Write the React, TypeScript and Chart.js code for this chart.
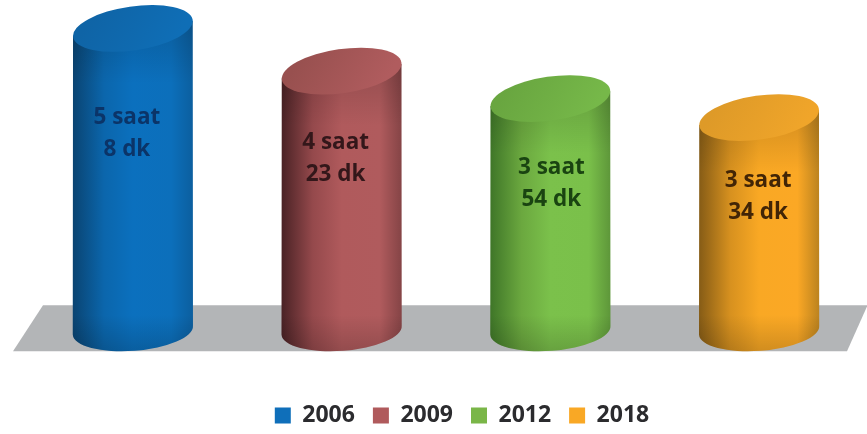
import React, { useEffect, useRef } from "react";
import { Chart, registerables } from "chart.js";

Chart.register(...registerables);

const years = ["2006", "2009", "2012", "2018"];
const minutes = [308, 263, 234, 214];
const labelLines = [
  ["5 saat", "8 dk"],
  ["4 saat", "23 dk"],
  ["3 saat", "54 dk"],
  ["3 saat", "34 dk"],
];
const legendColors = ["#0F6FBA", "#B05A5C", "#7AB648", "#F9A825"];
const bodyStops = [
  ["#0A4472", "#0B66AC", "#0B70BE", "#0C6FBB", "#0C5F9F"],
  ["#4A2225", "#95494C", "#B05A5C", "#B05B5D", "#854446"],
  ["#3F7628", "#6BA83F", "#7BC14B", "#7AC04A", "#5E973A"],
  ["#865C16", "#D7911F", "#F9A824", "#FBA825", "#BC831F"],
];
const capStops = [
  ["#0F64A6", "#0F6EB6"],
  ["#98504F", "#B05C5E"],
  ["#69A640", "#76B849"],
  ["#DE9A28", "#F0A52A"],
];
const textColors = ["#0B3468", "#33171A", "#1A4411", "#422506"];
const labelNudge = [
  [-6, 105.5],
  [-6, 87],
  [1, 85],
  [-1, 79.5],
];

const FONT = '"Open Sans", sans-serif';
const PLATFORM = "#B3B5B7";

const ellipseExtents = (a: number, b: number, r: number) => {
  const w = Math.sqrt(a * a * Math.cos(r) ** 2 + b * b * Math.sin(r) ** 2);
  const dy = ((a * a - b * b) * Math.sin(r) * Math.cos(r)) / w;
  return { w, dy };
};

const cylinderPlugin = {
  id: "cylinders",
  afterLayout(chart: any) {
    const lg = chart.legend;
    if (!lg) return;
    lg.left += 16;
    lg.right += 16;
    lg.top += 3;
    lg.bottom += 3;
  },
  beforeDatasetsDraw(chart: any) {
    const { ctx } = chart;
    const area = chart.chartArea;
    const y = chart.scales.y;
    const baseY = y.getPixelForValue(chart.data.datasets[0].base);
    ctx.save();
    ctx.fillStyle = PLATFORM;
    ctx.beginPath();
    ctx.moveTo(area.left + 14.5, baseY - 25);
    ctx.lineTo(area.right + 4, baseY - 25);
    ctx.lineTo(area.right - 16.5, baseY + 21);
    ctx.lineTo(area.left - 15.5, baseY + 21);
    ctx.closePath();
    ctx.fill();

    chart.getDatasetMeta(0).data.forEach((bar: any, i: number) => {
      const half = bar.width / 2;
      const cx = bar.x;
      const topR = (-8.2 * Math.PI) / 180;
      const botR = (-4.3 * Math.PI) / 180;
      const topA = half * 1.008, topB = 22;
      const botA = half * 1.006, botB = 20.6;
      const t = ellipseExtents(topA, topB, topR);
      const b = ellipseExtents(botA, botB, botR);

      const bodyPath = () => {
        ctx.beginPath();
        ctx.moveTo(cx - t.w, bar.y - t.dy);
        ctx.lineTo(cx - b.w, bar.base - b.dy);
        ctx.ellipse(cx, bar.base, botA, botB, botR, Math.PI, 0, true);
        ctx.lineTo(cx + t.w, bar.y + t.dy);
        ctx.closePath();
      };

      const g = ctx.createLinearGradient(cx - half, 0, cx + half, 0);
      const stops = bodyStops[i];
      [0, 0.26, 0.5, 0.82, 1].forEach((p, k) => g.addColorStop(p, stops[k]));
      ctx.fillStyle = g;
      bodyPath();
      ctx.fill();

      const shade = ctx.createLinearGradient(0, bar.y, 0, bar.base + botB);
      const h = bar.base + botB - bar.y;
      shade.addColorStop(0, "rgba(0,0,0,0.14)");
      shade.addColorStop(Math.min(0.4, 55 / h), "rgba(0,0,0,0)");
      shade.addColorStop(1 - 36 / h, "rgba(0,0,0,0)");
      shade.addColorStop(1, "rgba(0,0,0,0.16)");
      ctx.fillStyle = shade;
      bodyPath();
      ctx.fill();

      const cap = ctx.createLinearGradient(cx - half * 0.6, bar.y - topB, cx + half * 0.6, bar.y + topB);
      cap.addColorStop(0, capStops[i][0]);
      cap.addColorStop(1, capStops[i][1]);
      ctx.fillStyle = cap;
      ctx.beginPath();
      ctx.ellipse(cx, bar.y, topA, topB, topR, 0, Math.PI * 2);
      ctx.fill();

      ctx.fillStyle = textColors[i];
      ctx.font = `700 22.5px ${FONT}`;
      ctx.textAlign = "center";
      ctx.textBaseline = "middle";
      const [dx, dy] = labelNudge[i];
      ctx.fillText(labelLines[i][0], cx + dx, bar.y + dy - 16);
      ctx.fillText(labelLines[i][1], cx + dx, bar.y + dy + 16);
    });
    ctx.restore();
    return false;
  },
};

export default function App() {
  const ref = useRef<HTMLCanvasElement>(null);
  useEffect(() => {
    document.body.style.margin = "0";
    document.body.style.background = "#fff";
    const chart = new Chart(ref.current!, {
      type: "bar",
      data: {
        labels: years,
        datasets: [
          {
            label: "Süre",
            data: minutes,
            base: -10.4,
            backgroundColor: legendColors,
            barPercentage: 0.574,
            categoryPercentage: 1,
          } as any,
        ],
      },
      options: {
        responsive: false,
        animation: false,
        layout: { padding: { left: 28.5, right: 3.5, top: 0, bottom: 0 } },
        scales: {
          x: { display: false },
          y: { display: false, min: -66, max: 338 },
        },
        plugins: {
          tooltip: { enabled: false },
          legend: {
            position: "bottom",
            labels: {
              boxWidth: 16,
              boxHeight: 16,
              padding: 18,
              color: "#2B2B2E",
              font: { family: FONT, weight: 700, size: 23 },
              generateLabels: (c: any) =>
                c.data.labels.map((text: string, i: number) => ({
                  text,
                  fillStyle: legendColors[i],
                  strokeStyle: legendColors[i],
                  lineWidth: 0,
                  index: i,
                  fontColor: "#2B2B2E",
                })),
            },
          },
        },
      },
      plugins: [cylinderPlugin],
    });
    return () => chart.destroy();
  }, []);
  return (
    <canvas
      ref={ref}
      width={867}
      height={434}
      style={{ display: "block", width: 867, height: 434, filter: "blur(0.5px)" }}
    />
  );
}
